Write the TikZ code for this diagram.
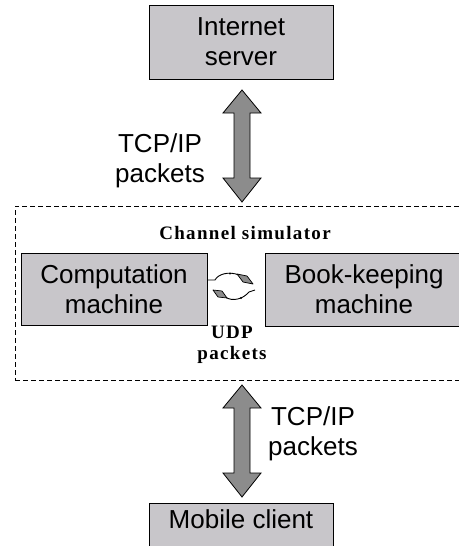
\documentclass[tikz,border=0pt]{standalone}
\usepackage{fontspec}
\setmainfont{Liberation Sans}
\newfontfamily\serifb[LetterSpace=7]{Liberation Serif}
\usetikzlibrary{calc}
\definecolor{boxgray}{RGB}{200,198,202}
\definecolor{arrgray}{RGB}{140,140,140}
\begin{document}
\begin{tikzpicture}[x=1pt,y=-1pt,
 box/.style={draw=black, fill=boxgray, line width=1pt, inner sep=0pt},
 sans/.style={font=\fontsize{26}{30}\selectfont, align=center, inner sep=0pt},
 serif/.style={font=\serifb\bfseries\fontsize{19}{21}\selectfont, align=center, inner sep=0pt},
 bigarr/.style={draw=black, fill=arrgray, line width=0.8pt, line join=miter},
 simbox/.style={draw=black, dash pattern=on 5pt off 3pt, line width=0.7pt, inner sep=0pt},
 cyc/.style={draw=black, line width=0.9pt},
 cychead/.style={draw=black, fill=arrgray, line width=0.7pt, line join=round}
]
\useasboundingbox (0,0) rectangle (458,546);
\node[simbox, minimum width=455, minimum height=174] (sim) at (242.5,293) {};
\node[box, minimum width=184, minimum height=74, sans] (server) at (241,42) {Internet\\server};
\node[box, minimum width=186, minimum height=72, sans] (comp) at (114,289) {Computation\\machine};
\node[box, minimum width=198, minimum height=73, sans] (book) at (364,289.5) {Book-keeping\\machine};
\node[box, minimum width=184, minimum height=70] (client) at (241,538) {};
\node[sans, anchor=base] (clienttxt) at (241,528) {Mobile client};
\node[sans] (tcp1) at (160,160.5) {TCP/IP\\packets};
\node[sans] (tcp2) at (313,434) {TCP/IP\\packets};
\node[serif, anchor=base] (chan) at (245,239) {Channel simulator};
\node[serif] (udp) at (232,345) {UDP\\packets};
% double arrows
\coordinate (a1t) at (242,90);
\coordinate (a1b) at (242,202);
\draw[bigarr] (a1t) -- ++(19,23) -- ++(-11,0) -- ($(a1b)+(8,-24)$) -- ++(11,0) -- (a1b) -- ++(-19,-24) -- ++(11,0) -- ($(a1t)+(-8,23)$) -- ++(-11,0) -- cycle;
\coordinate (a2t) at (242,385);
\coordinate (a2b) at (242,497);
\draw[bigarr] (a2t) -- ++(19,23) -- ++(-11,0) -- ($(a2b)+(8,-24)$) -- ++(11,0) -- (a2b) -- ++(-19,-24) -- ++(11,0) -- ($(a2t)+(-8,23)$) -- ++(-11,0) -- cycle;
% UDP cycle icon
\draw[cyc] ($(comp.east)+(0,-9)$) -- (215,280) .. controls (218,274) and (229,271) .. (239,275);
\fill (230,273.5) circle (1.2pt);
\draw[cychead] (237,274) -- (247,276) -- (253,284) -- (243,282) -- cycle;
\draw[cyc] (225,297) .. controls (233,302) and (243,299) .. (249,292) -- (255,290);
\fill (241,298) circle (1.1pt);
\draw[cychead] (213,290) -- (222,291) -- (227,298) -- (218,297) -- cycle;
\end{tikzpicture}
\end{document}
